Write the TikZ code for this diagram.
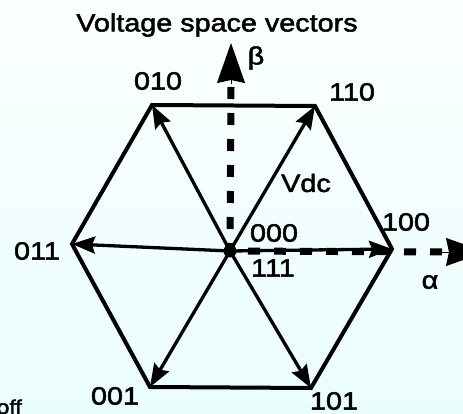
\documentclass[tikz,border=0pt]{standalone}
\usepackage{fontspec}
\setmainfont{Liberation Sans}[FakeStretch=1.15,FakeBold=2]
\usetikzlibrary{arrows.meta}
\begin{document}
\begin{tikzpicture}[x=1pt,y=-1pt,
  vec/.style={line width=3.3pt, -{Stealth[length=23pt,width=17pt,inset=3pt]}},
  hexedge/.style={line width=4pt, line join=miter},
  axisdash/.style={line width=7pt, dash pattern=on 12pt off 14pt},
  axishead/.style={line width=1pt, -{Stealth[length=40pt,width=28pt,inset=3pt]}},
  lbl/.style={font=\fontsize{25}{25}\selectfont, inner sep=0pt}]
\useasboundingbox (0,0) rectangle (463,414);
\shade[top color={rgb,255:red,251;green,255;blue,255}, bottom color={rgb,255:red,234;green,253;blue,253}] (0,0) rectangle (463,414);
\coordinate (O) at (230,251);
\coordinate (A) at (392,249);
\coordinate (B) at (315,106);
\coordinate (C) at (152,105);
\coordinate (D) at (72,244);
\coordinate (E) at (150,387);
\coordinate (F) at (311,388);
% axes
\coordinate (bstart) at (231,87);
\coordinate (bbase) at (231,84);
\coordinate (btip) at (231,43);
\coordinate (astart) at (442,252);
\coordinate (abase) at (440,252);
\coordinate (atip) at (486,252);
\draw[axisdash] (bstart) -- (O);
\draw[axisdash] (astart) -- (O);
\draw[axishead] (bbase) -- (btip);
\draw[axishead] (abase) -- (atip);
% hexagon
\draw[hexedge] (A) -- (B) -- (C) -- (D) -- (E) -- (F) -- cycle;
% vectors
\foreach \p in {A,B,C,D,E,F} \draw[vec] (O) -- (\p);
\fill (O) circle (6.5);
% labels
\node[lbl, font=\fontsize{25}{25}\selectfont] (title) at (217,25) {Voltage space vectors};
\node[lbl] (beta) at (256,58) {β};
\node[lbl] (l010) at (158,81) {010};
\node[lbl] (l110) at (352,92) {110};
\node[lbl] (vdc) at (306,183) {Vdc};
\node[lbl] (l000) at (274,233) {000};
\node[lbl] (l111) at (273,268) {111};
\node[lbl] (l100) at (406,222) {100};
\node[lbl] (alpha) at (430,282) {α};
\node[lbl] (l011) at (37,251) {011};
\node[lbl] (l001) at (115,396) {001};
\node[lbl] (l101) at (334,401) {101};
\node[lbl, font=\fontsize{20}{20}\selectfont, anchor=base east] (off) at (22,414) {off};
\end{tikzpicture}
\end{document}
